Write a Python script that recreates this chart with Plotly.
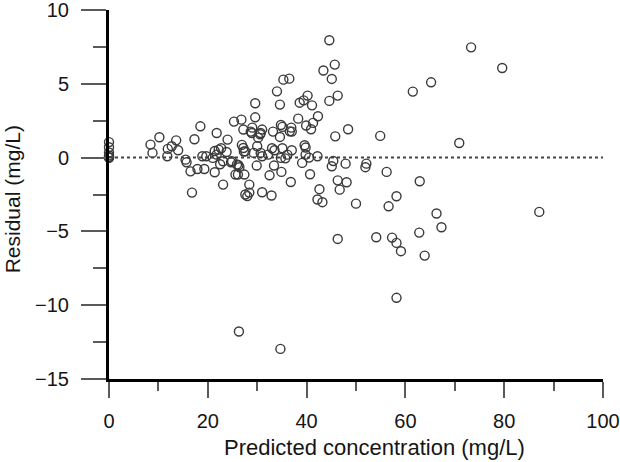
import plotly.graph_objects as go

# Predicted concentration (mg/L)
pred = [
    0, 0, 0, 0, 0, 0, 0, 0,
    44.6, 73.3, 79.6, 45.7, 43.4, 35.3, 36.5, 45.1, 65.2, 61.5, 34.0, 46.3,
    40.2, 29.6, 34.6, 38.6, 39.4, 41.1, 44.6, 25.3, 26.8, 29.6, 38.3, 42.3,
    41.3, 18.5, 34.8, 35.1, 36.9, 39.9, 27.2, 29.0, 31.0, 28.7, 33.2, 37.0,
    40.9, 48.4, 21.8, 30.6, 30.2, 34.6, 54.9, 45.8, 17.3, 10.2, 13.6, 24.0,
    70.9, 8.4, 12.7, 11.9, 26.9, 27.2, 30.0, 33.0, 35.1, 39.6, 39.8, 21.4,
    22.7, 14.0, 8.8, 11.8, 21.8, 23.8, 27.3, 29.3, 33.5, 37.0, 18.9, 21.0,
    31.0, 32.2, 34.8, 35.7, 39.8, 40.5, 15.5, 15.7, 24.7, 22.5, 29.9, 33.4,
    26.2, 26.4, 39.1, 45.4, 45.1, 47.9, 52.1, 51.9, 17.9, 19.3, 16.5, 21.4,
    25.6, 26.1, 27.4, 34.9, 32.5, 40.7, 56.2, 36.8, 46.3, 48.1, 62.9, 23.1,
    28.4, 46.7, 42.6, 16.8, 31.0, 28.4, 27.6, 32.9, 58.2, 42.2, 43.2, 50.0,
    56.6, 66.3, 87.1, 67.3, 62.8, 54.1, 57.3, 46.3, 58.2, 59.1, 63.9, 58.2,
    26.3, 34.7, 30.7, 28.9, 36.6, 22.2, 27.6, 36.1, 30.7, 19.7, 23.1, 24.9,
    25.9, 42.2, 28.0,
]

# Residual (mg/L)
resid = [
    1.05, 0.7, 0.35, 0.15, 0.05, 0.0, 0.0, 0.0,
    7.95, 7.47, 6.07, 6.30, 5.90, 5.28, 5.35, 5.33, 5.10, 4.47, 4.49, 4.20,
    4.20, 3.68, 3.59, 3.72, 3.88, 3.54, 3.84, 2.44, 2.57, 2.73, 2.64, 2.80,
    2.35, 2.12, 2.21, 2.08, 2.03, 2.17, 1.90, 2.03, 1.90, 1.76, 1.76, 1.76,
    1.92, 1.92, 1.67, 1.58, 1.35, 1.40, 1.47, 1.44, 1.24, 1.38, 1.17, 1.22,
    0.99, 0.88, 0.77, 0.59, 0.86, 0.65, 0.77, 0.63, 0.63, 0.84, 0.68, 0.45,
    0.63, 0.50, 0.32, 0.09, 0.20, 0.38, 0.41, 0.32, 0.50, 0.50, 0.09, -0.02,
    0.09, 0.20, -0.02, -0.05, 0.20, 0.00, -0.14, -0.32, -0.32, -0.45, -0.54, -0.54,
    -0.52, -0.65, -0.36, -0.23, -0.59, -0.41, -0.41, -0.65, -0.77, -0.77, -0.93, -0.99,
    -1.15, -1.15, -1.15, -0.97, -1.20, -1.13, -0.97, -1.65, -1.54, -1.67, -1.60, -1.83,
    -1.83, -2.17, -2.14, -2.37, -2.35, -2.37, -2.50, -2.57, -2.62, -2.84, -3.02, -3.12,
    -3.30, -3.79, -3.68, -4.72, -5.08, -5.40, -5.42, -5.51, -5.78, -6.34, -6.64, -9.50,
    -11.78, -12.96, 1.67, 1.67, 1.78, 0.54, 0.42, 0.20, 0.32, 0.09, -0.25, -0.25,
    -0.47, 0.09, -2.61,
]

x_ticks = [0, 20, 40, 60, 80, 100]
x_minor = [10, 30, 50, 70, 90]
y_ticks = [-15, -10, -5, 0, 5, 10]
y_tick_text = ["\u221215", "\u221210", "\u22125", "0", "5", "10"]
y_minor = [-12.5, -7.5, -2.5, 2.5, 7.5]

FONT = "Liberation Sans, Arial, Helvetica, sans-serif"
TXT = "#151515"
TICKC = "#5a5a5a"

fig = go.Figure()

fig.add_trace(go.Scatter(
    x=pred, y=resid, mode="markers",
    marker=dict(symbol="circle-open", size=9, color="#3a3a3a",
                line=dict(width=1.4, color="#3a3a3a")),
    cliponaxis=False, showlegend=False,
))

# dotted zero line
fig.add_shape(type="line", xref="x", yref="y", x0=0, x1=100, y0=0, y1=0,
              line=dict(color="#444444", width=2, dash="dot"), layer="below")

fig.update_layout(
    width=620, height=462,
    margin=dict(l=109, r=17, t=10, b=83, autoexpand=False),
    paper_bgcolor="white", plot_bgcolor="white",
    font=dict(family=FONT, size=20, color=TXT),
    xaxis=dict(range=[0, 100], showgrid=False, zeroline=False, automargin=False,
               showline=True, linewidth=3, linecolor="black",
               ticks="outside", ticklen=16, tickwidth=2, tickcolor=TICKC,
               tickvals=x_ticks, ticklabelstandoff=6, ticklabeloverflow="allow",
               minor=dict(tickvals=x_minor, ticks="outside",
                          ticklen=9, tickwidth=2, tickcolor=TICKC),
               tickfont=dict(size=20, color=TXT)),
    yaxis=dict(range=[-15, 10], showgrid=False, zeroline=False, automargin=False,
               showline=True, linewidth=3, linecolor="black",
               ticks="outside", ticklen=25, tickwidth=2, tickcolor=TICKC,
               tickvals=y_ticks, ticktext=y_tick_text, ticklabelstandoff=8,
               ticklabeloverflow="allow",
               minor=dict(tickvals=y_minor, ticks="outside",
                          ticklen=13, tickwidth=2, tickcolor=TICKC),
               tickfont=dict(size=20, color=TXT)),
    annotations=[
        dict(text="Predicted concentration (mg/L)", xref="paper", yref="paper",
             x=0.537, y=-0.186, xanchor="center", yanchor="middle",
             showarrow=False, font=dict(size=22, family=FONT, color=TXT)),
        dict(text="Residual (mg/L)", xref="paper", yref="paper",
             x=-0.195, y=0.486, xanchor="center", yanchor="middle",
             textangle=-90, showarrow=False,
             font=dict(size=21, family=FONT, color=TXT)),
    ],
)

fig.write_html(
    "out.html",
    config={"displayModeBar": False},
    post_script="document.body.style.margin='0';document.body.style.overflow='hidden';",
)
